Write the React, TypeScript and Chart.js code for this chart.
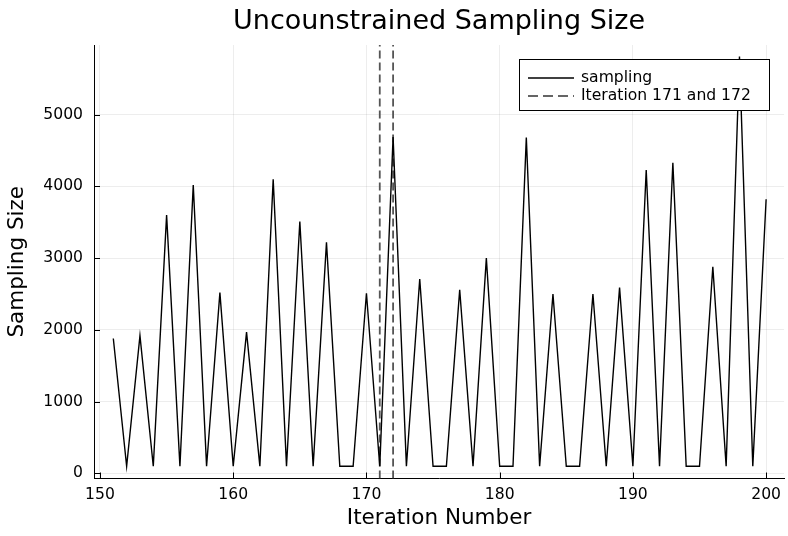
import React, { useEffect, useRef } from "react";
import { Chart, registerables } from "chart.js";

Chart.register(...registerables);

const iterations = [
  151, 152, 153, 154, 155, 156, 157, 158, 159, 160,
  161, 162, 163, 164, 165, 166, 167, 168, 169, 170,
  171, 172, 173, 174, 175, 176, 177, 178, 179, 180,
  181, 182, 183, 184, 185, 186, 187, 188, 189, 190,
  191, 192, 193, 194, 195, 196, 197, 198, 199, 200,
];
const sampling = [
  1880, 100, 1920, 100, 3600, 100, 4020, 100, 2520, 100,
  1970, 100, 4100, 100, 3510, 100, 3220, 100, 100, 2510,
  100, 4690, 100, 2710, 100, 100, 2560, 100, 3000, 100,
  100, 4680, 100, 2500, 100, 100, 2500, 100, 2590, 100,
  4230, 100, 4330, 100, 100, 2880, 100, 5810, 100, 3820,
];
const markedIterations = [171, 172];
const xTicks = [150, 160, 170, 180, 190, 200];
const yTicks = [0, 1000, 2000, 3000, 4000, 5000];
const legendLabels = ["sampling", "Iteration 171 and 172"];
const chartTitle = "Uncounstrained Sampling Size";

const X_MIN = 149.55;
const X_MAX = 201.35;
const Y_MIN = -71;
const Y_MAX = 5971;
const FONT = "'DejaVu Sans', sans-serif";

export default function App() {
  const ref = useRef<HTMLCanvasElement | null>(null);

  useEffect(() => {
    if (!ref.current) return;
    const lineData = iterations.map((x, i) => ({ x, y: sampling[i] }));
    const vlineSets = markedIterations.map((it) => ({
      type: "line" as const,
      label: legendLabels[1],
      data: [
        { x: it, y: Y_MIN },
        { x: it, y: Y_MAX },
      ],
      borderColor: "#555555",
      borderWidth: 1.8,
      borderDash: [8, 4],
      pointRadius: 0,
      tension: 0,
    }));

    const extras = {
      id: "extras",
      afterDraw(chart: any) {
        const ctx = chart.ctx;
        const { left, right, bottom } = chart.chartArea;
        const xs = chart.scales.x;
        const ys = chart.scales.y;
        ctx.save();
        // title centred over plot area
        ctx.fillStyle = "#000";
        ctx.font = `27px ${FONT}`;
        ctx.textAlign = "center";
        ctx.textBaseline = "alphabetic";
        ctx.fillText(chartTitle, (left + right) / 2, 28.5);

        // inward tick marks
        ctx.strokeStyle = "#000";
        ctx.lineWidth = 1;
        ctx.beginPath();
        xTicks.forEach((t) => {
          const px = Math.round(xs.getPixelForValue(t)) + 0.5;
          ctx.moveTo(px, bottom);
          ctx.lineTo(px, bottom - 6);
        });
        yTicks.forEach((t) => {
          const py = Math.round(ys.getPixelForValue(t)) + 0.5;
          ctx.moveTo(left, py);
          ctx.lineTo(left + 6, py);
        });
        ctx.stroke();

        // legend
        const bx = 519.5, by = 59.5, bw = 250, bh = 51;
        ctx.fillStyle = "#fff";
        ctx.fillRect(bx, by, bw, bh);
        ctx.strokeStyle = "#000";
        ctx.lineWidth = 1;
        ctx.strokeRect(bx, by, bw, bh);
        const rows = [77.5, 95.5];
        ctx.font = `15.6px ${FONT}`;
        ctx.textBaseline = "middle";
        ctx.textAlign = "left";
        rows.forEach((ry, i) => {
          ctx.beginPath();
          if (i === 0) {
            ctx.setLineDash([]);
            ctx.strokeStyle = "#000";
            ctx.lineWidth = 1.4;
          } else {
            ctx.setLineDash([10, 5]);
            ctx.strokeStyle = "#333";
            ctx.lineWidth = 1.6;
          }
          ctx.moveTo(528, ry + 0.5);
          ctx.lineTo(574, ry + 0.5);
          ctx.stroke();
          ctx.setLineDash([]);
          ctx.fillStyle = "#000";
          ctx.fillText(legendLabels[i], 581, ry);
        });
        ctx.restore();
      },
    };

    const chart = new Chart(ref.current, {
      type: "line",
      data: {
        datasets: [
          {
            label: legendLabels[0],
            data: lineData,
            borderColor: "#000",
            borderWidth: 1.4,
            pointRadius: 0,
            tension: 0,
          },
          ...vlineSets,
        ],
      },
      options: {
        animation: false,
        responsive: false,
        devicePixelRatio: 1,
        layout: { padding: { left: 0, right: 0, top: 45, bottom: 0 } },
        plugins: {
          legend: { display: false },
          tooltip: { enabled: false },
          title: { display: false },
        },
        scales: {
          x: {
            type: "linear",
            min: X_MIN,
            max: X_MAX,
            afterBuildTicks: (s: any) => {
              s.ticks = xTicks.map((v) => ({ value: v }));
            },
            afterFit: (s: any) => {
              s.height = 57.5;
            },
            grid: {
              color: "rgba(0,0,0,0.07)",
              drawTicks: false,
            },
            border: { display: true, color: "#000", width: 1 },
            ticks: {
              color: "#000",
              font: { family: FONT, size: 15.6 },
              padding: 7,
              maxRotation: 0,
              autoSkip: false,
              callback: (v: any) => String(v),
            },
            title: {
              display: true,
              text: "Iteration Number",
              color: "#000",
              font: { family: FONT, size: 21.5 },
              padding: { top: 0, bottom: 5 },
            },
          },
          y: {
            type: "linear",
            min: Y_MIN,
            max: Y_MAX,
            afterBuildTicks: (s: any) => {
              s.ticks = yTicks.map((v) => ({ value: v }));
            },
            afterFit: (s: any) => {
              s.width = 94;
            },
            grid: {
              color: "rgba(0,0,0,0.07)",
              drawTicks: false,
            },
            border: { display: true, color: "#000", width: 1 },
            ticks: {
              color: "#000",
              font: { family: FONT, size: 15.6 },
              padding: 11,
              autoSkip: false,
              callback: (v: any) => String(v),
            },
            title: {
              display: true,
              text: "Sampling Size",
              color: "#000",
              font: { family: FONT, size: 21.5 },
              padding: { top: 5, bottom: 0 },
            },
          },
        },
      },
      plugins: [extras],
    } as any);
    return () => chart.destroy();
  }, []);

  return (
    <div style={{ position: "absolute", left: 0, top: 0, width: 788, height: 536, background: "#fff" }}>
      <canvas ref={ref} width={788} height={536} style={{ width: 788, height: 536 }} />
    </div>
  );
}
